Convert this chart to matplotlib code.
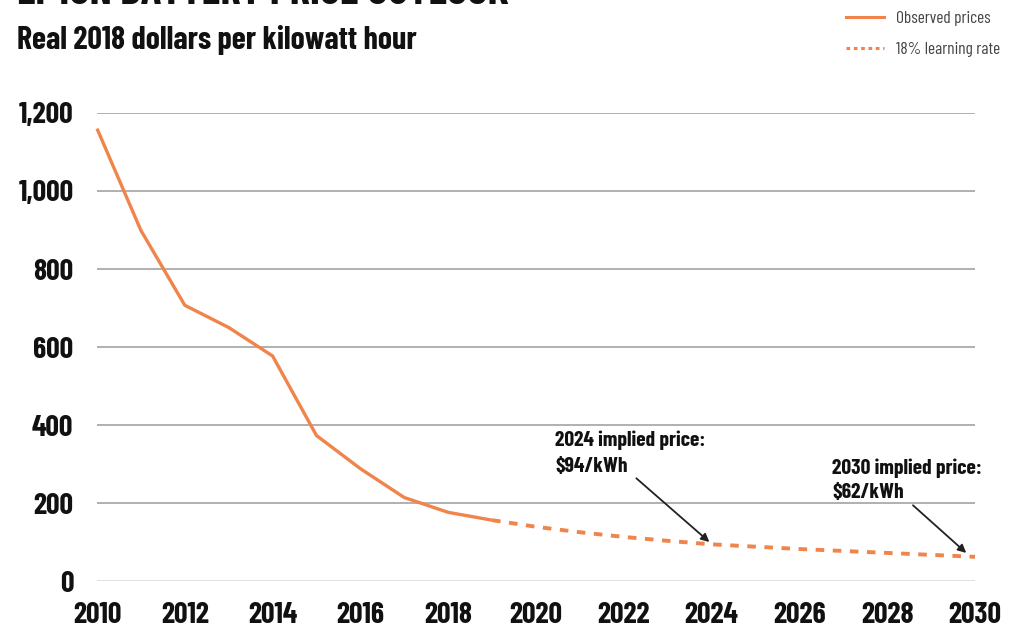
import matplotlib
matplotlib.use("Agg")
import matplotlib.pyplot as plt
from matplotlib.lines import Line2D

plt.rcParams['font.family'] = ['Barlow Condensed', 'DejaVu Sans']

obs_years = [2010, 2011, 2012, 2013, 2014, 2015, 2016, 2017, 2018, 2019]
obs_prices = [1160, 899, 707, 650, 577, 373, 288, 214, 176, 156]

proj_years = [2019, 2020, 2021, 2022, 2023, 2024, 2025, 2026, 2027, 2028, 2029, 2030]
proj_prices = [156, 139, 125, 113, 103, 94, 88, 82, 77, 72, 67, 62]

y_ticks = [0, 200, 400, 600, 800, 1000, 1200]
y_labels = ["0", "200", "400", "600", "800", "1,000", "1,200"]
x_ticks = list(range(2010, 2031, 2))

ORANGE = '#F0844A'

fig = plt.figure(figsize=(10.17, 6.37), dpi=100)
ax = fig.add_axes([97/1017, 1-581/637, (975-97)/1017, (581-113)/637])

for v in y_ticks:
    ax.axhline(v, color='#DDDDDD' if v == 0 else '#AAAAAA', lw=1.3, zorder=1)

ax.plot(obs_years, obs_prices, color=ORANGE, lw=2.4, clip_on=False, zorder=3,
        solid_capstyle='butt')
ax.plot(proj_years, proj_prices, color=ORANGE, lw=2.8, ls=(0, (2.2, 2.2)),
        clip_on=False, zorder=3)

ax.set_xlim(2010, 2030)
ax.set_ylim(0, 1200)
ax.set_yticks(y_ticks)
ax.set_yticklabels(y_labels)
ax.set_xticks(x_ticks)
for s in ax.spines.values():
    s.set_visible(False)
ax.tick_params(axis='both', length=0, labelsize=21.5, colors='#111111')
ax.tick_params(axis='y', pad=17)
ax.tick_params(axis='x', pad=15)
for lab in ax.get_xticklabels() + ax.get_yticklabels():
    lab.set_fontweight('bold')

# Titles
fig.text(17/1017, 1 - (-7)/637, "LI-ION BATTERY PRICE OUTLOOK", fontsize=31,
         fontweight='bold', ha='left', va='center', color='#111111')
fig.text(17/1017, 1 - 40/637, "Real 2018 dollars per kilowatt hour", fontsize=23,
         fontweight='bold', ha='left', va='center', color='#111111')

# Annotations
ax.annotate("2024 implied price:\n$94/kWh", xy=(2023.95, 100),
            xytext=(555, 637-431), textcoords='figure pixels',
            fontsize=15.5, fontweight='bold', ha='left', va='top',
            linespacing=1.4, color='#111111',
            arrowprops=dict(arrowstyle='-|>', color='#222222', lw=1.3,
                            mutation_scale=12, shrinkA=0, shrinkB=0,
                            relpos=(0.52, 0.0)))
ax.annotate("2030 implied price:\n$62/kWh", xy=(2029.8, 72),
            xytext=(832, 637-458), textcoords='figure pixels',
            fontsize=15.5, fontweight='bold', ha='left', va='top',
            linespacing=1.4, color='#111111',
            arrowprops=dict(arrowstyle='-|>', color='#222222', lw=1.3,
                            mutation_scale=12, shrinkA=0, shrinkB=0,
                            relpos=(0.52, 0.0)))

# Legend
handles = [Line2D([], [], color=ORANGE, lw=2.2),
           Line2D([], [], color=ORANGE, lw=2.2, ls=(0, (1.2, 1.2)))]
fig.legend(handles, ["Observed prices", "18% learning rate"],
           loc='upper right', bbox_to_anchor=(1016/1017, 1 - (-5)/637),
           frameon=False, fontsize=12.5, handlelength=2.2, handletextpad=0.7,
           labelspacing=0.95, labelcolor='#444444')

fig.savefig("out.png", dpi=100)
